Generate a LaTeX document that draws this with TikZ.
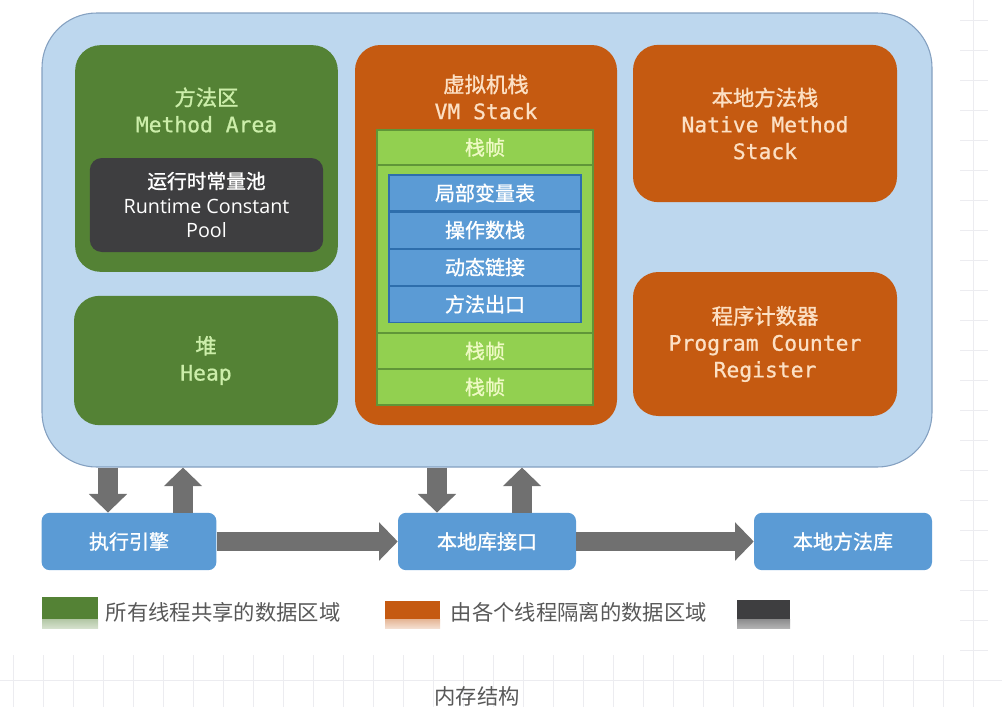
\documentclass[tikz,border=0pt]{standalone}
\usepackage{fontspec}
\setmainfont{Open Sans}
\newfontfamily\cjk{Noto Sans CJK SC}
\newfontfamily\cjkb{Noto Sans CJK SC}[FakeBold=1.2]
\newfontfamily\monofont{DejaVu Sans Mono}[FakeBold=0.8]
\usetikzlibrary{arrows.meta,positioning}

\definecolor{shellblue}{RGB}{189,215,238}
\definecolor{shellline}{RGB}{132,160,192}
\definecolor{sharedgreen}{RGB}{84,130,53}
\definecolor{sharedtext}{RGB}{204,238,170}
\definecolor{poolgray}{RGB}{62,62,64}
\definecolor{threadorange}{RGB}{197,90,17}
\definecolor{threadtext}{RGB}{252,224,196}
\definecolor{framegreen}{RGB}{146,208,80}
\definecolor{frameline}{RGB}{96,150,56}
\definecolor{frametext}{RGB}{238,250,196}
\definecolor{slotblue}{RGB}{91,155,213}
\definecolor{slotline}{RGB}{46,110,172}
\definecolor{arrowgray}{RGB}{112,112,112}
\definecolor{legendtext}{RGB}{88,88,88}
\definecolor{gridgray}{RGB}{236,236,240}

\begin{document}
\begin{tikzpicture}[x=0.75pt,y=-0.75pt,
  shared/.style={fill=sharedgreen, rounded corners=19pt, text=sharedtext, align=center},
  private/.style={fill=threadorange, rounded corners=19pt, text=threadtext, align=center},
  frame/.style={fill=framegreen, draw=frameline, line width=0.8pt, minimum width=162pt, text=frametext},
  slot/.style={fill=slotblue, draw=slotline, line width=0.8pt, minimum width=144pt, minimum height=27pt, text=white},
  outside/.style={fill=slotblue, rounded corners=6pt, minimum width=131pt, minimum height=43pt, text=white},
  fatarrow/.style={arrowgray, line width=14.5pt, -{Triangle[width=28pt,length=14pt]}},
  big/.style={font=\fontsize{16}{20}\selectfont},
  small/.style={font=\fontsize{15}{18}\selectfont\cjkb},
  legend/.style={anchor=west, text=legendtext, font=\fontsize{16}{18}\selectfont\cjk}]
\useasboundingbox (0,0) rectangle (1002,707);

% page grid behind the picture
\foreach \gx in {13,43,...,973}
  \draw[gridgray, line width=0.6pt] (\gx,655) -- (\gx,707);
\draw[gridgray, line width=0.6pt] (0,680) -- (1002,680);
\draw[gridgray, line width=0.6pt] (973,0) -- (973,655);
\foreach \gy in {20,50,...,650}
  \draw[gridgray, line width=0.6pt] (960,\gy) -- (988,\gy);

% runtime data area
\node[fill=shellblue, draw=shellline, line width=0.8pt, rounded corners=41pt,
      minimum width=667.5pt, minimum height=340.5pt] (outer) at (487,240) {};

% method area
\node[shared, minimum width=197pt, minimum height=170pt] (method) at (206.5,158.5) {};
\node[big, text=sharedtext, align=center] (methodtitle) at (206.5,110)
  {{\cjkb 方法区}\\{\monofont Method Area}};
\node[fill=poolgray, rounded corners=9pt, minimum width=175pt, minimum height=70.5pt,
      text=white, align=center, font=\fontsize{14.8}{18.5}\selectfont] (pool) at (206.5,205)
  {{\cjkb 运行时常量池}\\Runtime Constant\\Pool};

% heap
\node[shared, big, minimum width=198pt, minimum height=97pt] (heap) at (206,360.5)
  {{\cjkb 堆}\\{\monofont Heap}};

% vm stack
\node[private, minimum width=196.5pt, minimum height=285pt] (vmstack) at (486,235) {};
\node[big, text=threadtext, align=center] (vmtitle) at (486,97)
  {{\cjkb 虚拟机栈}\\{\monofont VM Stack}};
\node[frame, minimum height=26.25pt, small] (frameA) at (485,147.5) {栈帧};
\node[frame, minimum height=126pt] (frameB) at (485,249) {};
\node[frame, minimum height=27pt, small] (frameC) at (485,351) {栈帧};
\node[frame, minimum height=27pt, small] (frameD) at (485,387) {栈帧};
\node[slot, small] (locals) at (485,193) {局部变量表};
\node[slot, below=0pt of locals, small] (operands) {操作数栈};
\node[slot, below=0pt of operands, small] (dynlink) {动态链接};
\node[slot, below=0pt of dynlink, small] (retaddr) {方法出口};

% native method stack and pc register
\node[private, big, minimum width=198pt, minimum height=118pt] (native) at (765,123.5)
  {{\cjkb 本地方法栈}\\{\monofont Native Method}\\{\monofont Stack}};
\node[private, big, minimum width=198pt, minimum height=108pt] (pc) at (765,344)
  {{\cjkb 程序计数器}\\{\monofont Program Counter}\\{\monofont Register}};

% engine, native interface, native libraries
\node[outside, small] (engine) at (129,541.5) {执行引擎};
\node[outside, minimum width=133.5pt, small] (jni) at (487,541.5) {本地库接口};
\node[outside, minimum width=133.5pt, small] (natlib) at (843,541.5) {本地方法库};

\coordinate (ax1) at (108,490);
\coordinate (ax2) at (183,490);
\coordinate (ax3) at (437,490);
\coordinate (ax4) at (522,490);
\draw[fatarrow] (outer.south -| ax1) -- (engine.north -| ax1);
\draw[fatarrow] (engine.north -| ax2) -- (outer.south -| ax2);
\draw[fatarrow] (outer.south -| ax3) -- (jni.north -| ax3);
\draw[fatarrow] (jni.north -| ax4) -- (outer.south -| ax4);
\draw[fatarrow] (engine.east) -- (jni.west);
\draw[fatarrow] (jni.east) -- (natlib.west);

% legend
\fill[sharedgreen] (42,597) rectangle (98,619);
\shade[top color=sharedgreen!45, bottom color=sharedgreen!25] (42,619) rectangle (98,628);
\node[legend] (sharedkey) at (101,612) {所有线程共享的数据区域};
\fill[threadorange] (385,601) rectangle (440,619);
\shade[top color=threadorange!45, bottom color=threadorange!20] (385,619) rectangle (440,628);
\node[legend] (privatekey) at (446,612) {由各个线程隔离的数据区域};
\fill[poolgray] (737,600) rectangle (790,619);
\shade[top color=poolgray!60, bottom color=poolgray!40] (737,619) rectangle (790,628);

% caption
\node[text=legendtext, font=\fontsize{16}{18}\selectfont\cjk] (caption) at (477,696) {内存结构};
\end{tikzpicture}
\end{document}
